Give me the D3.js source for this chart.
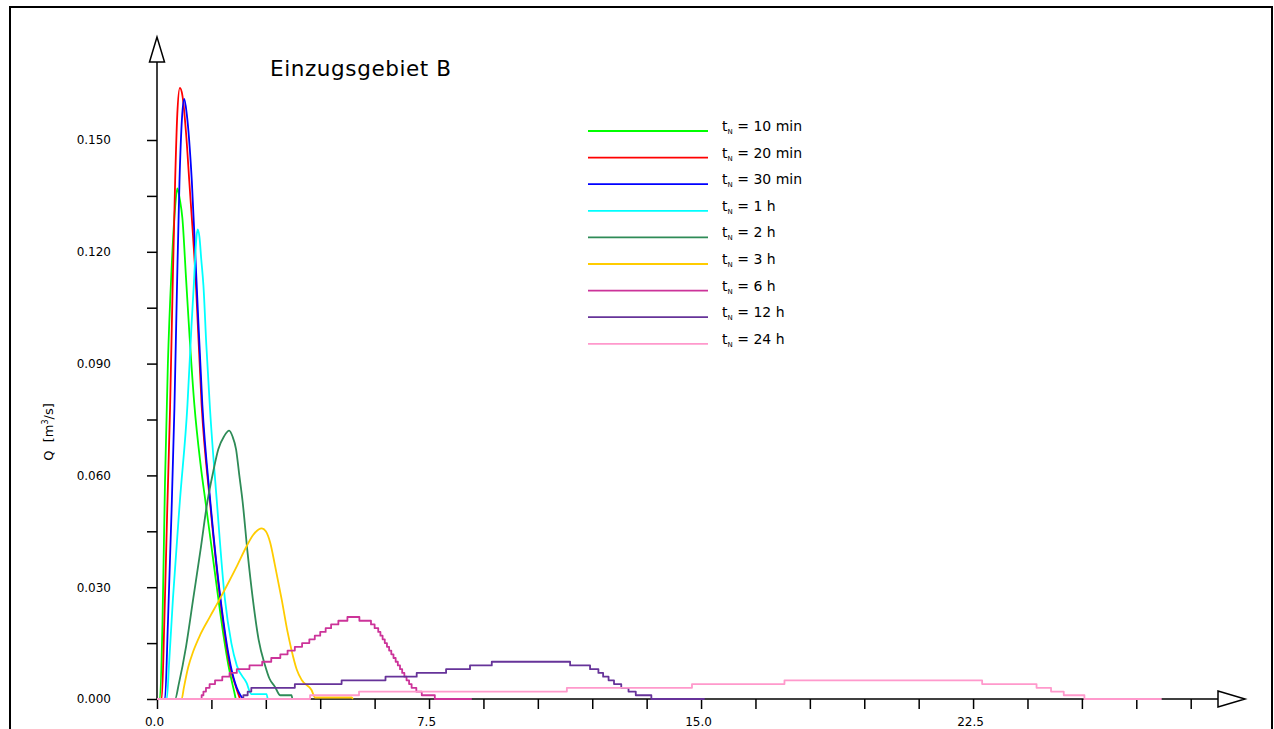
<!DOCTYPE html>
<html>
<head>
<meta charset="utf-8">
<script src="https://cdn.jsdelivr.net/npm/d3@7"></script>
<style>
  html, body { margin: 0; padding: 0; background: #fff; }
  svg { display: block; font-family: "DejaVu Sans", sans-serif; }
</style>
</head>
<body>
<svg id="chart" width="1274" height="729"></svg>
<script>
// ---------- data (t in hours, Q in m³/s) ----------
const legendLabels = ["10 min", "20 min", "30 min", "1 h", "2 h", "3 h", "6 h", "12 h", "24 h"];
const yTickValues = [0, 0.015, 0.03, 0.045, 0.06, 0.075, 0.09, 0.105, 0.12, 0.135, 0.15];
const yTickLabels = ["0.000", "", "0.030", "", "0.060", "", "0.090", "", "0.120", "", "0.150"];
const xTickValues = [0, 1.5, 3, 4.5, 6, 7.5, 9, 10.5, 12, 13.5, 15, 16.5, 18, 19.5, 21, 22.5, 24, 25.5, 27, 28.5];
const xTickLabels = ["0.0", "", "", "", "", "7.5", "", "", "", "", "15.0", "", "", "", "", "22.5", "", "", "", ""];

const q10min = [[0,0],[0.08,0],[0.15,0.02],[0.22,0.058],[0.3,0.09],[0.4,0.115],[0.5,0.132],[0.56,0.137],[0.63,0.134],[0.7,0.129],[0.8,0.113],[0.9,0.097],[1.03,0.079],[1.2,0.063],[1.35,0.052],[1.5,0.041],[1.69,0.027],[1.85,0.016],[1.97,0.009],[2.08,0.004],[2.15,0.001],[2.17,0]];
const q20min = [[0,0],[0.13,0],[0.2,0.02],[0.28,0.05],[0.36,0.078],[0.43,0.11],[0.5,0.139],[0.56,0.157],[0.63,0.164],[0.7,0.162],[0.8,0.152],[0.89,0.139],[1.07,0.112],[1.23,0.079],[1.46,0.053],[1.74,0.027],[2.01,0.009],[2.15,0.004],[2.29,0]];
const q30min = [[0,0],[0.22,0],[0.3,0.02],[0.4,0.05],[0.48,0.078],[0.55,0.11],[0.62,0.139],[0.69,0.156],[0.75,0.161],[0.82,0.157],[0.96,0.139],[1.09,0.112],[1.25,0.079],[1.47,0.053],[1.75,0.027],[2.03,0.009],[2.2,0.003],[2.3,0.001],[2.38,0]];
const q1h = [[0,0],[0.27,0],[0.33,0.009],[0.44,0.027],[0.63,0.053],[0.84,0.079],[0.95,0.1],[1.02,0.112],[1.08,0.123],[1.12,0.126],[1.17,0.124],[1.22,0.118],[1.28,0.111],[1.36,0.095],[1.46,0.078],[1.65,0.053],[1.87,0.027],[2.05,0.015],[2.2,0.009],[2.47,0.0043],[2.6,0.0013],[3.02,0.0013],[3.05,0]];
const q2h = [[0,0],[0.5,0],[0.6,0.004],[0.8,0.014],[1.0,0.027],[1.2,0.04],[1.39,0.053],[1.55,0.061],[1.69,0.067],[1.85,0.0705],[1.99,0.072],[2.08,0.0705],[2.18,0.067],[2.27,0.06],[2.36,0.053],[2.5,0.039],[2.64,0.027],[2.8,0.016],[2.98,0.009],[3.1,0.0055],[3.25,0.0033],[3.4,0.001],[3.71,0.001],[3.73,0]];
const q3h = [[0,0],[0.68,0],[0.74,0.003],[0.86,0.0085],[1.0,0.0128],[1.19,0.0172],[1.45,0.0219],[1.74,0.027],[2.0,0.0318],[2.21,0.0358],[2.47,0.041],[2.65,0.044],[2.8,0.0455],[2.89,0.0458],[3.0,0.045],[3.12,0.042],[3.25,0.036],[3.44,0.0266],[3.6,0.018],[3.71,0.0131],[3.85,0.008],[3.99,0.0051],[4.26,0.0024],[4.36,0.0004],[5.37,0.0004],[5.4,0]];
const q6h = [[0,0],[1.23,0.001],[1.28,0.002],[1.35,0.003],[1.45,0.004],[1.6,0.005],[1.8,0.006],[2.0,0.007],[2.2,0.008],[2.55,0.009],[2.9,0.010],[3.15,0.011],[3.4,0.012],[3.6,0.013],[3.8,0.014],[4.0,0.015],[4.2,0.016],[4.35,0.017],[4.5,0.018],[4.65,0.019],[4.8,0.020],[5.0,0.021],[5.25,0.022],[5.58,0.021],[5.9,0.020],[6.0,0.019],[6.1,0.018],[6.16,0.017],[6.22,0.016],[6.28,0.015],[6.34,0.014],[6.4,0.013],[6.46,0.012],[6.52,0.011],[6.58,0.010],[6.64,0.009],[6.7,0.008],[6.76,0.007],[6.82,0.006],[6.88,0.005],[6.95,0.004],[7.02,0.003],[7.15,0.002],[7.3,0.001],[7.66,0],[8.68,0]];
const q12h = [[0,0],[2.38,0.001],[2.5,0.002],[2.6,0.003],[3.8,0.004],[5.09,0.005],[6.3,0.006],[7.16,0.007],[7.97,0.008],[8.63,0.009],[9.23,0.010],[11.39,0.009],[11.94,0.008],[12.17,0.007],[12.3,0.006],[12.45,0.005],[12.6,0.004],[12.8,0.003],[13.0,0.002],[13.2,0.001],[13.63,0],[15.1,0]];
const q24h = [[0,0],[4.22,0.001],[5.57,0.002],[11.3,0.003],[14.75,0.004],[17.3,0.005],[22.75,0.004],[24.25,0.003],[24.65,0.002],[25.0,0.001],[25.57,0],[27.7,0]];

const seriesData = [q10min, q20min, q30min, q1h, q2h, q3h, q6h, q12h, q24h];
const stepped = [false, false, false, false, false, false, true, true, true];
const colors = ["#00ff00", "#ff0000", "#0000ff", "#00ffff", "#2e8b57", "#ffcc00", "#cc3399", "#663399", "#ff99cc"];

// ---------- layout ----------
const svg = d3.select("#chart");
const x = d3.scaleLinear().domain([0, 28.5]).range([157, 1190.7]);
const y = d3.scaleLinear().domain([0, 0.15]).range([699, 140]);

// frame
svg.append("rect").attr("x", 10).attr("y", 7).attr("width", 1262).attr("height", 740)
  .attr("fill", "none").attr("stroke", "#000").attr("stroke-width", 2);

// title
svg.append("text").attr("x", 270).attr("y", 76).attr("font-size", 21.5)
  .attr("letter-spacing", 0.6).attr("fill", "#000").text("Einzugsgebiet B");

// y axis label
svg.append("text").attr("transform", "translate(53,432) rotate(-90)")
  .attr("text-anchor", "middle").attr("font-size", 13).attr("fill", "#000")
  .attr("xml:space", "preserve")
  .html('Q  [m<tspan font-size="8" dy="-5">3</tspan><tspan dy="5">/s]</tspan>');

// y axis
const yAxis = d3.axisLeft(y).tickValues(yTickValues).tickSize(10).tickSizeOuter(0).tickPadding(36)
  .tickFormat((d, i) => yTickLabels[i]);
const gy = svg.append("g").attr("transform", `translate(${x(0)},0)`).call(yAxis);
gy.select(".domain").remove();
gy.selectAll(".tick line").attr("stroke", "#000").attr("stroke-width", 1.5);
gy.selectAll(".tick text").attr("font-size", 12).attr("font-family", "DejaVu Sans").attr("fill", "#000");

// x axis
const xAxis = d3.axisBottom(x).tickValues(xTickValues).tickSize(10).tickSizeOuter(0).tickPadding(8)
  .tickFormat((d, i) => xTickLabels[i]);
const gx = svg.append("g").attr("transform", `translate(0,${y(0)})`).call(xAxis);
gx.select(".domain").remove();
gx.selectAll(".tick line").attr("stroke", "#000").attr("stroke-width", 1.5);
gx.selectAll(".tick text").attr("font-size", 12).attr("font-family", "DejaVu Sans").attr("fill", "#000").attr("dx", -3);

// axis lines with arrows
const x0 = x(0), y0 = y(0);
svg.append("line").attr("x1", x0).attr("y1", y0).attr("x2", x0).attr("y2", 62)
  .attr("stroke", "#000").attr("stroke-width", 1.5);
svg.append("path").attr("d", `M${x0},37 L${x0 - 7.5},62 L${x0 + 7.5},62 Z`)
  .attr("fill", "#fff").attr("stroke", "#000").attr("stroke-width", 1.5);
svg.append("line").attr("x1", x0).attr("y1", y0).attr("x2", 1218).attr("y2", y0)
  .attr("stroke", "#000").attr("stroke-width", 1.5);
svg.append("path").attr("d", `M1218,${y0 - 8} L1245,${y0} L1218,${y0 + 8} Z`)
  .attr("fill", "#fff").attr("stroke", "#000").attr("stroke-width", 1.5);

// series
seriesData.forEach((data, i) => {
  const line = d3.line().x(d => x(d[0])).y(d => y(d[1]))
    .curve(stepped[i] ? d3.curveStepAfter : d3.curveMonotoneX);
  svg.append("path").datum(data).attr("d", line)
    .attr("fill", "none").attr("stroke", colors[i]).attr("stroke-width", 1.8)
    .attr("stroke-linejoin", "round");
});

// legend
const lg = svg.append("g");
legendLabels.forEach((lab, i) => {
  const ly = 131 + i * 26.6;
  lg.append("line").attr("x1", 588).attr("x2", 708).attr("y1", ly).attr("y2", ly)
    .attr("stroke", colors[i]).attr("stroke-width", 1.8);
  const t = lg.append("text").attr("x", 722).attr("y", ly).attr("font-size", 14).attr("fill", "#000")
    .attr("xml:space", "preserve");
  t.append("tspan").text("t");
  t.append("tspan").attr("font-size", 7).attr("dy", 3).text("N");
  t.append("tspan").attr("dy", -3).text(" = " + lab);
});
</script>
</body>
</html>
